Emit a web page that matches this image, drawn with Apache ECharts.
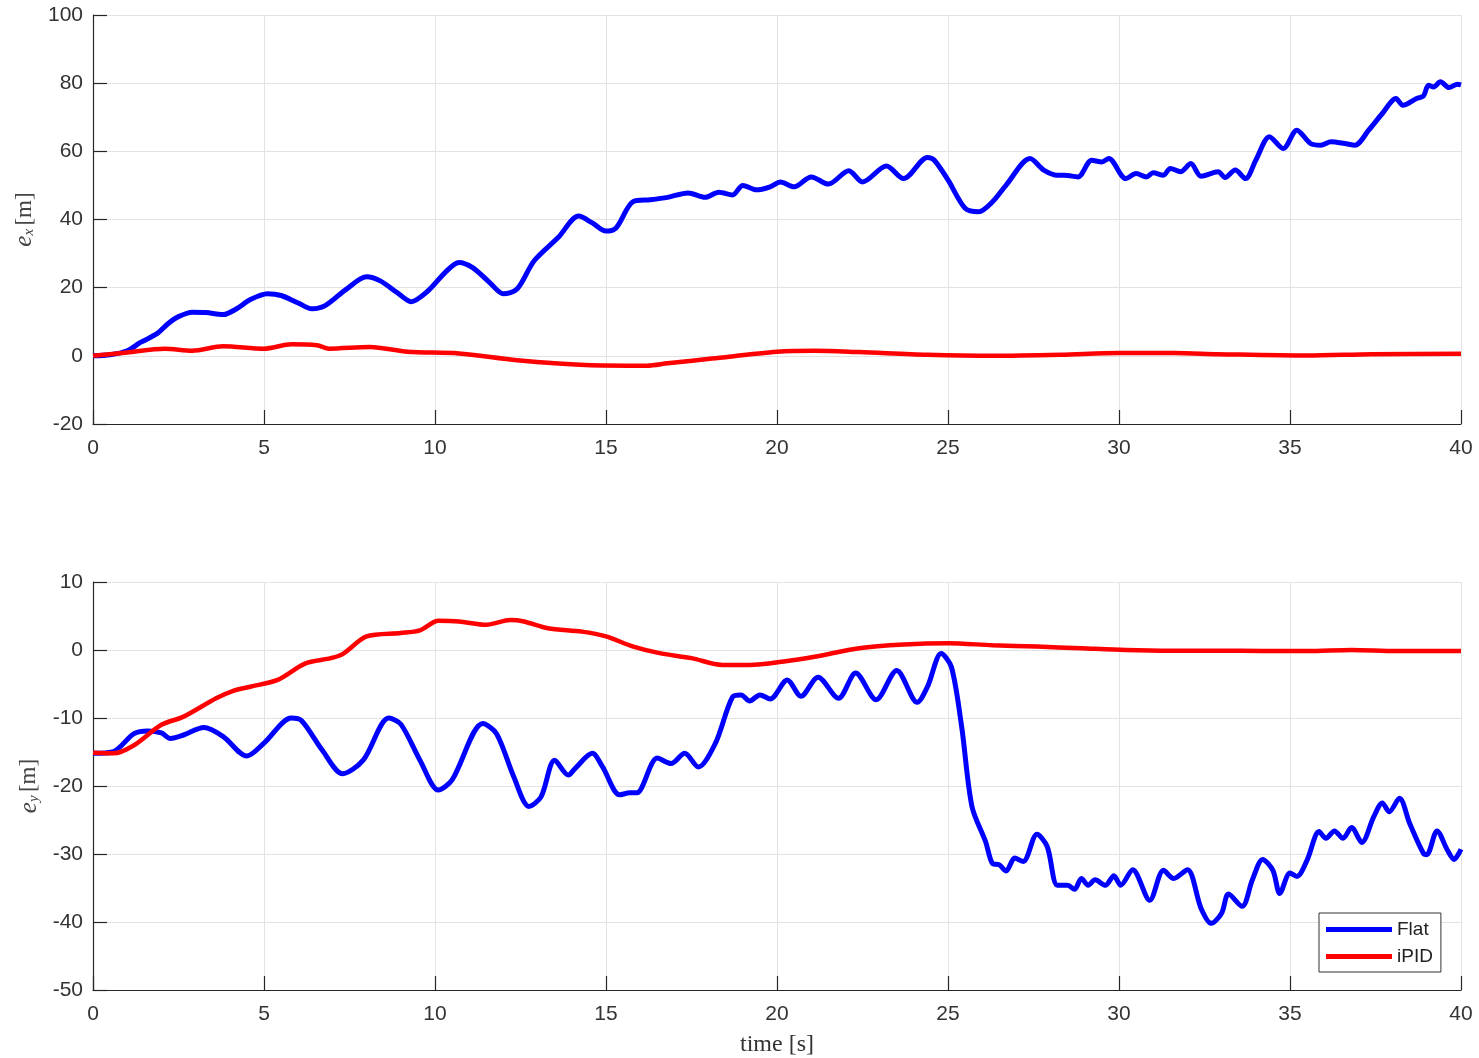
<!DOCTYPE html>
<html>
<head>
<meta charset="utf-8">
<script src="https://cdn.jsdelivr.net/npm/echarts@6/dist/echarts.min.js"></script>
<style>
  html, body { margin: 0; padding: 0; background: #ffffff; }
  #chart { width: 1479px; height: 1058px; }
</style>
</head>
<body>
<div id="chart"></div>
<script>
// Tracking errors over time, [time s, error m]
const flatEx = [[0,0],[0.5,0.3],[1.0,1.5],[1.4,4],[1.87,6.5],[2.2,9.5],[2.5,11.5],[2.9,12.8],[3.3,12.7],[3.8,12.1],[4.2,13.8],[4.6,16.5],[5.1,18.2],[5.5,17.7],[6.0,15.5],[6.4,13.8],[6.8,14.8],[7.4,19.5],[8.0,23.2],[8.4,22],[8.9,18.5],[9.3,15.9],[9.8,19.1],[10.3,24.5],[10.7,27.4],[11.1,25.9],[11.6,21.5],[12.0,18.2],[12.4,19.6],[12.9,27.9],[13.6,34.7],[14.2,41],[14.6,39],[15.0,36.6],[15.3,37.6],[15.8,45.3],[16.3,45.8],[16.8,46.5],[17.4,47.8],[17.9,46.5],[18.3,48],[18.7,47.2],[19.0,50],[19.4,48.7],[19.8,49.6],[20.1,51],[20.5,49.6],[21.0,52.5],[21.5,50.4],[22.1,54.3],[22.5,51],[23.2,55.7],[23.7,52],[24.4,58.2],[24.6,57.4],[25.0,51.6],[25.5,43.3],[25.9,42.3],[26.3,45.2],[26.7,50.1],[27.4,57.9],[27.8,54.5],[28.2,53],[28.4,53],[28.8,52.5],[29.2,57.4],[29.5,56.9],[29.7,57.9],[30.2,52],[30.5,53.5],[30.8,52.5],[31.0,53.7],[31.3,53],[31.5,55],[31.8,54],[32.1,56.4],[32.4,52.7],[32.9,54],[33.1,52.3],[33.4,54.5],[33.7,52],[34.0,57.4],[34.4,64.3],[34.8,60.8],[35.2,66.2],[35.6,62.3],[35.9,61.8],[36.2,62.8],[36.6,62.3],[36.9,61.8],[37.3,66.2],[37.7,71.1],[38.1,75.5],[38.3,73.5],[38.7,75.5],[38.9,76.2],[39.05,79.4],[39.2,78.9],[39.4,80.4],[39.65,78.7],[39.9,79.7],[40,79.5]];

const ipidEx = [[0,0],[1,1],[2.1,2.1],[2.9,1.5],[3.8,2.8],[5.0,2.1],[5.8,3.4],[6.55,3.1],[6.9,2.1],[8.1,2.6],[9.2,1.2],[10.7,0.7],[12.4,-1.3],[14.4,-2.7],[16.2,-2.9],[16.8,-2.2],[18.1,-0.8],[20.0,1.2],[21.1,1.5],[22.4,1.1],[24.4,0.3],[26.3,0],[28.3,0.3],[30,0.8],[31.6,0.8],[32.9,0.5],[35.5,0.1],[37.4,0.5],[40,0.6]];

const flatEy = [[0,-15.2],[0.57,-15.0],[1.2,-12.3],[1.6,-11.9],[2.0,-12.2],[2.26,-13.0],[2.65,-12.5],[3.24,-11.4],[3.8,-12.7],[4.5,-15.6],[5.0,-13.7],[5.8,-10.0],[6.1,-10.4],[6.7,-14.7],[7.3,-18.2],[7.9,-16.2],[8.65,-10.0],[9.0,-10.9],[9.56,-16.2],[10.1,-20.6],[10.5,-19.1],[11.4,-10.8],[11.8,-12.3],[12.3,-18.6],[12.75,-23.0],[13.1,-21.6],[13.5,-16.2],[13.9,-18.4],[14.1,-17.4],[14.6,-15.2],[14.9,-17.2],[15.4,-21.3],[15.7,-21.0],[15.9,-21],[16.5,-15.9],[16.9,-16.7],[17.3,-15.2],[17.7,-17.2],[18.2,-13.7],[18.7,-6.9],[18.95,-6.6],[19.2,-7.5],[19.5,-6.6],[19.8,-7.2],[20.3,-4.4],[20.7,-6.8],[21.2,-4.0],[21.8,-7.1],[22.3,-3.4],[22.9,-7.3],[23.5,-3.0],[24.1,-7.7],[24.4,-5.4],[24.8,-0.5],[25.1,-2.5],[25.4,-11.3],[25.7,-23.0],[26.1,-28.2],[26.3,-31.4],[26.5,-31.6],[26.7,-32.5],[26.95,-30.6],[27.2,-31.1],[27.6,-27.1],[27.9,-28.9],[28.2,-34.6],[28.5,-34.6],[28.7,-35.2],[28.9,-33.6],[29.1,-34.6],[29.3,-33.8],[29.6,-34.6],[29.85,-33.2],[30.05,-34.6],[30.4,-32.3],[30.9,-36.8],[31.3,-32.4],[31.6,-33.6],[32.0,-32.3],[32.4,-38.0],[32.7,-40.2],[33.0,-38.7],[33.2,-35.9],[33.6,-37.7],[33.9,-33.8],[34.2,-30.8],[34.5,-32.4],[34.7,-35.8],[35.0,-32.8],[35.2,-33.3],[35.5,-30.9],[35.85,-26.7],[36.05,-27.7],[36.3,-26.6],[36.55,-27.7],[36.8,-26.1],[37.1,-28.3],[37.45,-24.5],[37.7,-22.5],[37.9,-23.8],[38.2,-21.8],[38.5,-25.5],[38.9,-29.9],[39.0,-30.1],[39.3,-26.6],[39.6,-29.4],[39.8,-30.8],[40,-29.3]];

const ipidEy = [[0,-15.1],[0.6,-15.2],[1.2,-14.0],[2.0,-11.0],[2.65,-9.8],[3.6,-7.1],[4.1,-6.0],[4.6,-5.4],[5.4,-4.4],[6.2,-2.0],[6.95,-1.2],[7.3,-0.6],[8.0,2.0],[9.0,2.5],[9.56,2.9],[10.1,4.3],[10.7,4.2],[11.5,3.7],[12.2,4.4],[12.6,4.2],[13.3,3.2],[14.3,2.7],[15.0,2.0],[15.8,0.5],[16.6,-0.5],[17.5,-1.2],[18.4,-2.2],[19.2,-2.2],[20.2,-1.7],[21.1,-1.0],[22.4,0.25],[23.7,0.8],[25.0,1.0],[26.3,0.7],[27.6,0.5],[28.9,0.25],[30.2,0],[31.5,-0.1],[32.9,-0.1],[34.2,-0.15],[35.5,-0.15],[36.8,0],[38.1,-0.15],[40,-0.15]];

const seriesNames = ['Flat', 'iPID'];
const seriesColors = ['#0000ff', '#ff0000'];
const seriesWidths = [5, 4.5];

const axisColor = '#262626';
const gridColor = '#e3e3e3';
const sansFont = '"Liberation Sans", Arial, sans-serif';
const serifFont = '"Liberation Serif", "DejaVu Serif", serif';

function xAxisFor(gridIndex, withName) {
  return {
    type: 'value', gridIndex, min: 0, max: 40, interval: 5,
    axisLine: { show: true, onZero: false, lineStyle: { color: axisColor, width: 1.2 } },
    axisTick: { show: true, inside: true, length: 14, lineStyle: { color: axisColor, width: 1.2 } },
    axisLabel: { margin: 14, color: '#333', fontSize: 21, fontFamily: sansFont },
    splitLine: { show: true, lineStyle: { color: gridColor, width: 1 } },
    name: withName ? 'time [s]' : '',
    nameLocation: 'middle', nameGap: 43,
    nameTextStyle: { color: '#333', fontSize: 24, fontFamily: serifFont }
  };
}

function yAxisFor(gridIndex, min, max, interval, sub) {
  return {
    type: 'value', gridIndex, min, max, interval,
    axisLine: { show: true, onZero: false, lineStyle: { color: axisColor, width: 1.2 } },
    axisTick: { show: true, inside: true, length: 14, lineStyle: { color: axisColor, width: 1.2 } },
    axisLabel: { margin: 10, color: '#333', fontSize: 21, fontFamily: sansFont },
    splitLine: { show: true, lineStyle: { color: gridColor, width: 1 } },
    name: '{e|e}{s|' + sub + '} {u|[m]}',
    nameLocation: 'middle', nameRotate: 90, nameGap: 50,
    nameTextStyle: {
      color: '#444',
      rich: {
        e: { fontFamily: serifFont, fontStyle: 'italic', fontSize: 25, lineHeight: 25, verticalAlign: 'middle', color: '#444' },
        s: { fontFamily: serifFont, fontStyle: 'italic', fontSize: 15, lineHeight: 10, verticalAlign: 'bottom', color: '#444' },
        u: { fontFamily: serifFont, fontSize: 23, lineHeight: 25, verticalAlign: 'middle', color: '#444' }
      }
    }
  };
}

function lineSeries(i, data, axisIndex) {
  return {
    name: seriesNames[i], type: 'line', data,
    xAxisIndex: axisIndex, yAxisIndex: axisIndex,
    showSymbol: false, smooth: 0.3,
    lineStyle: { color: seriesColors[i], width: seriesWidths[i] },
    itemStyle: { color: seriesColors[i] },
    emphasis: { disabled: true },
    silent: true
  };
}

const chart = echarts.init(document.getElementById('chart'), null, { renderer: 'canvas' });
chart.setOption({
  backgroundColor: '#ffffff',
  animation: false,
  grid: [
    { left: 93, right: 18, top: 15, height: 409 },
    { left: 93, right: 18, top: 582, height: 408 }
  ],
  xAxis: [xAxisFor(0, false), xAxisFor(1, true)],
  yAxis: [
    yAxisFor(0, -20, 100, 20, 'x'),
    yAxisFor(1, -50, 10, 10, 'y')
  ],
  legend: {
    data: seriesNames,
    orient: 'vertical',
    left: 1319, top: 913,
    padding: [7, 8, 6, 7],
    itemGap: 8,
    itemWidth: 66, itemHeight: 5,
    icon: 'rect',
    backgroundColor: '#ffffff',
    borderColor: '#333',
    borderWidth: 1,
    borderRadius: 0,
    selectedMode: false,
    textStyle: { color: '#222', fontSize: 19, fontFamily: sansFont }
  },
  series: [
    lineSeries(0, flatEx, 0),
    lineSeries(1, ipidEx, 0),
    lineSeries(0, flatEy, 1),
    lineSeries(1, ipidEy, 1)
  ]
});
</script>
</body>
</html>
